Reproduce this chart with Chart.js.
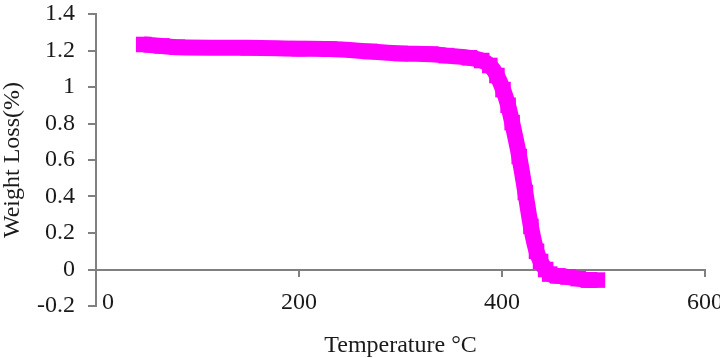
<!DOCTYPE html>
<html>
<head>
<meta charset="utf-8">
<script src="https://cdn.jsdelivr.net/npm/chart.js@4.4.1/dist/chart.umd.min.js"></script>
<style>
  html, body { margin: 0; padding: 0; background: #fff; }
  #wrap { width: 720px; height: 358px; }
</style>
</head>
<body>
<div id="wrap"><canvas id="tgaChart" width="720" height="358"></canvas></div>
<script>
// values
const temperature = [47, 65, 80, 150, 200, 230, 270, 300, 330, 345, 368, 380, 388, 395, 401, 406, 410, 417, 423, 428.5, 434, 438, 443, 447, 455, 465, 475, 485, 494];
const weightLoss = [1.233, 1.225, 1.218, 1.215, 1.21, 1.208, 1.195, 1.184, 1.18, 1.172, 1.16, 1.145, 1.118, 1.063, 0.986, 0.9, 0.805, 0.619, 0.422, 0.236, 0.1, 0.044, 0.0, -0.025, -0.035, -0.041, -0.05, -0.058, -0.058];

const xTicks = [0, 200, 400, 600];
const yTicks = [-0.2, 0, 0.2, 0.4, 0.6, 0.8, 1, 1.2, 1.4];

const axisGray = "#808080";
const textColor = "#1a1a1a";
const serif = "'Liberation Serif', 'Times New Roman', serif";

function setTicks(values) {
  return scale => {
    scale.ticks = values.map(v => ({ value: v }));
  };
}

new Chart(document.getElementById("tgaChart"), {
  type: "line",
  data: {
    datasets: [
      {
        data: temperature.map((t, i) => ({ x: t, y: weightLoss[i] })),
        borderColor: "#ff00ff",
        backgroundColor: "#ff00ff",
        borderWidth: 16,
        pointStyle: "rect",
        pointRadius: 11,
        pointBorderWidth: 0,
        cubicInterpolationMode: "monotone",
        xAxisID: "x",
        yAxisID: "y"
      }
    ]
  },
  options: {
    responsive: false,
    animation: false,
    layout: { padding: { top: 14, right: 15, bottom: 0, left: 0 } },
    plugins: { legend: { display: false }, tooltip: { enabled: false } },
    scales: {
      x: {
        type: "linear",
        position: "bottom",
        min: 0,
        max: 600,
        afterBuildTicks: setTicks(xTicks),
        afterFit: s => { s.height = 52; s.paddingLeft = 0; s.paddingRight = 0; },
        grid: { display: false, drawTicks: false },
        border: { display: false },
        // mirror keeps the labels from being clipped at the top of the scale box
        ticks: {
          color: textColor,
          font: { family: serif, size: 24 },
          mirror: true,
          padding: -11,
          maxRotation: 0,
          autoSkip: false,
          // the 0 label sits a little right of the y axis
          callback: v => (v === 0 ? "    0" : String(v))
        },
        title: {
          display: true,
          text: "Temperature °C",
          color: textColor,
          font: { family: serif, size: 24, lineHeight: 1 },
          padding: { top: 0, bottom: 0 }
        }
      },
      xAxis0: {
        type: "linear",
        axis: "x",
        position: { y: 0 },
        min: 0,
        max: 600,
        afterBuildTicks: setTicks(xTicks),
        ticks: { display: false },
        grid: { drawOnChartArea: false, drawTicks: true, tickLength: 6, color: axisGray, lineWidth: 2 },
        border: { color: axisGray, width: 2 }
      },
      y: {
        type: "linear",
        position: "left",
        min: -0.2,
        max: 1.4,
        afterBuildTicks: setTicks(yTicks),
        afterFit: s => { s.width = 96; s.paddingTop = 0; s.paddingBottom = 0; },
        grid: { drawOnChartArea: false, drawTicks: true, tickLength: 8, color: axisGray, lineWidth: 2 },
        border: { color: axisGray, width: 2 },
        ticks: { color: textColor, font: { family: serif, size: 24 }, padding: 13, callback: v => String(v) },
        title: {
          display: true,
          text: "Weight Loss(%)",
          color: textColor,
          font: { family: serif, size: 24, lineHeight: 1 },
          padding: { top: 1, bottom: 0 }
        }
      }
    }
  }
});
</script>
</body>
</html>
